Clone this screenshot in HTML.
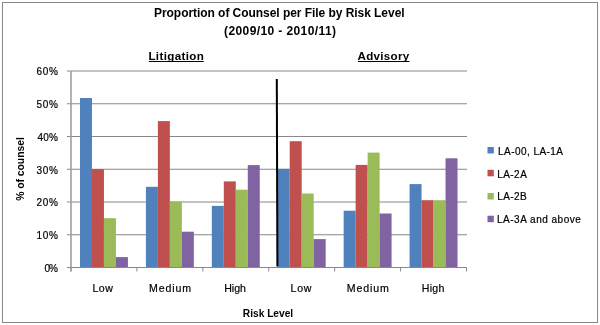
<!DOCTYPE html>
<html><head><meta charset="utf-8"><style>
html,body{margin:0;padding:0;background:#fff;width:600px;height:325px;overflow:hidden}
svg{display:block;font-family:"Liberation Sans", sans-serif;will-change:transform}
text{fill:#000}
text.r{stroke:#000;stroke-width:0.2px}
</style></head><body>
<svg width="600" height="325" viewBox="0 0 600 325">
<rect x="2.5" y="2.5" width="595" height="320" fill="#fff" stroke="#878787" stroke-width="1"/>
<line x1="67.0" y1="234.75" x2="467.0" y2="234.75" stroke="#888" stroke-width="1"/>
<line x1="67.0" y1="202.00" x2="467.0" y2="202.00" stroke="#888" stroke-width="1"/>
<line x1="67.0" y1="169.25" x2="467.0" y2="169.25" stroke="#888" stroke-width="1"/>
<line x1="67.0" y1="136.50" x2="467.0" y2="136.50" stroke="#888" stroke-width="1"/>
<line x1="67.0" y1="103.75" x2="467.0" y2="103.75" stroke="#888" stroke-width="1"/>
<line x1="67.0" y1="71.00" x2="467.0" y2="71.00" stroke="#888" stroke-width="1"/>
<rect x="79.99" y="98.00" width="11.98" height="169.50" fill="#4F81BD"/>
<rect x="91.97" y="169.10" width="11.98" height="98.40" fill="#C0504D"/>
<rect x="103.96" y="218.20" width="11.98" height="49.30" fill="#9BBB59"/>
<rect x="115.94" y="257.10" width="11.98" height="10.40" fill="#8064A2"/>
<rect x="145.91" y="186.80" width="11.98" height="80.70" fill="#4F81BD"/>
<rect x="157.89" y="121.10" width="11.98" height="146.40" fill="#C0504D"/>
<rect x="169.88" y="201.60" width="11.98" height="65.90" fill="#9BBB59"/>
<rect x="181.86" y="231.70" width="11.98" height="35.80" fill="#8064A2"/>
<rect x="211.82" y="205.90" width="11.98" height="61.60" fill="#4F81BD"/>
<rect x="223.81" y="181.40" width="11.98" height="86.10" fill="#C0504D"/>
<rect x="235.79" y="189.70" width="11.98" height="77.80" fill="#9BBB59"/>
<rect x="247.78" y="165.10" width="11.98" height="102.40" fill="#8064A2"/>
<rect x="277.74" y="168.90" width="11.98" height="98.60" fill="#4F81BD"/>
<rect x="289.72" y="141.20" width="11.98" height="126.30" fill="#C0504D"/>
<rect x="301.71" y="193.50" width="11.98" height="74.00" fill="#9BBB59"/>
<rect x="313.69" y="239.10" width="11.98" height="28.40" fill="#8064A2"/>
<rect x="343.66" y="210.70" width="11.98" height="56.80" fill="#4F81BD"/>
<rect x="355.64" y="164.90" width="11.98" height="102.60" fill="#C0504D"/>
<rect x="367.63" y="152.60" width="11.98" height="114.90" fill="#9BBB59"/>
<rect x="379.61" y="213.50" width="11.98" height="54.00" fill="#8064A2"/>
<rect x="409.57" y="184.10" width="11.98" height="83.40" fill="#4F81BD"/>
<rect x="421.56" y="200.20" width="11.98" height="67.30" fill="#C0504D"/>
<rect x="433.54" y="200.20" width="11.98" height="67.30" fill="#9BBB59"/>
<rect x="445.53" y="158.30" width="11.98" height="109.20" fill="#8064A2"/>
<line x1="71.0" y1="267.5" x2="467.0" y2="267.5" stroke="#888" stroke-width="1"/>
<line x1="71.00" y1="267.5" x2="71.00" y2="271.5" stroke="#888" stroke-width="1"/>
<line x1="136.92" y1="267.5" x2="136.92" y2="271.5" stroke="#888" stroke-width="1"/>
<line x1="202.83" y1="267.5" x2="202.83" y2="271.5" stroke="#888" stroke-width="1"/>
<line x1="268.75" y1="267.5" x2="268.75" y2="271.5" stroke="#888" stroke-width="1"/>
<line x1="334.67" y1="267.5" x2="334.67" y2="271.5" stroke="#888" stroke-width="1"/>
<line x1="400.58" y1="267.5" x2="400.58" y2="271.5" stroke="#888" stroke-width="1"/>
<line x1="466.50" y1="267.5" x2="466.50" y2="271.5" stroke="#888" stroke-width="1"/>
<line x1="71.0" y1="71.0" x2="71.0" y2="271.5" stroke="#a0a0a0" stroke-width="1.6"/>
<line x1="67.0" y1="267.5" x2="71.0" y2="267.5" stroke="#888" stroke-width="1"/>
<line x1="276.8" y1="79" x2="277.4" y2="266.5" stroke="#000" stroke-width="2"/>
<text id="title1" x="154.00" y="16.90" font-size="12" font-weight="bold" textLength="250.60" lengthAdjust="spacing">Proportion of Counsel per File by Risk Level</text>
<text id="title2" x="224.00" y="34.50" font-size="12" font-weight="bold" textLength="112.00" lengthAdjust="spacing">(2009/10 - 2010/11)</text>
<text id="litig" x="148.40" y="59.80" font-size="11.6" font-weight="bold" textLength="55.40" lengthAdjust="spacing">Litigation</text>
<text id="advis" x="357.60" y="59.60" font-size="11.6" font-weight="bold" textLength="51.60" lengthAdjust="spacing">Advisory</text>
<text id="y0" class="r" x="44.60" y="272.10" font-size="10" font-weight="normal" textLength="13.40" lengthAdjust="spacing">0%</text>
<text id="y1" class="r" x="36.60" y="239.35" font-size="10" font-weight="normal" textLength="21.40" lengthAdjust="spacing">10%</text>
<text id="y2" class="r" x="36.60" y="205.60" font-size="10" font-weight="normal" textLength="21.40" lengthAdjust="spacing">20%</text>
<text id="y3" class="r" x="36.60" y="173.85" font-size="10" font-weight="normal" textLength="21.40" lengthAdjust="spacing">30%</text>
<text id="y4" class="r" x="37.60" y="141.10" font-size="10" font-weight="normal" textLength="20.40" lengthAdjust="spacing">40%</text>
<text id="y5" class="r" x="36.60" y="108.35" font-size="10" font-weight="normal" textLength="21.40" lengthAdjust="spacing">50%</text>
<text id="y6" class="r" x="36.60" y="74.60" font-size="10" font-weight="normal" textLength="21.40" lengthAdjust="spacing">60%</text>
<text id="c0" class="r" x="92.60" y="291.60" font-size="10.6" font-weight="normal" textLength="20.20" lengthAdjust="spacing">Low</text>
<text id="c1" class="r" x="149.00" y="291.60" font-size="10.6" font-weight="normal" textLength="42.00" lengthAdjust="spacing">Medium</text>
<text id="c2" class="r" x="224.20" y="291.60" font-size="10.6" font-weight="normal" textLength="21.80" lengthAdjust="spacing">High</text>
<text id="c3" class="r" x="290.60" y="291.60" font-size="10.6" font-weight="normal" textLength="20.80" lengthAdjust="spacing">Low</text>
<text id="c4" class="r" x="346.80" y="291.60" font-size="10.6" font-weight="normal" textLength="42.00" lengthAdjust="spacing">Medium</text>
<text id="c5" class="r" x="421.80" y="291.60" font-size="10.6" font-weight="normal" textLength="22.60" lengthAdjust="spacing">High</text>
<text id="risk" x="242.80" y="317.30" font-size="10.2" font-weight="bold" textLength="50.40" lengthAdjust="spacing">Risk Level</text>
<text id="l0" class="r" x="498.00" y="155.30" font-size="10" font-weight="normal" textLength="65.00" lengthAdjust="spacing">LA-00, LA-1A</text>
<text id="l1" class="r" x="497.20" y="178.00" font-size="10" font-weight="normal" textLength="29.60" lengthAdjust="spacing">LA-2A</text>
<text id="l2" class="r" x="497.20" y="199.90" font-size="10" font-weight="normal" textLength="29.40" lengthAdjust="spacing">LA-2B</text>
<text id="l3" class="r" x="497.00" y="222.70" font-size="10" font-weight="normal" textLength="83.80" lengthAdjust="spacing">LA-3A and above</text>
<rect x="148.9" y="61" width="54.8" height="1" fill="#000"/>
<rect x="357.9" y="61" width="51.6" height="1" fill="#000"/>
<text id="ylab" transform="translate(24,200.80) rotate(-90)" font-size="10.6" font-weight="bold" textLength="63.60" lengthAdjust="spacingAndGlyphs">% of counsel</text>
<rect x="487.5" y="147" width="6.3" height="6.5" fill="#4F81BD"/>
<rect x="487.5" y="169.8" width="6.3" height="6.5" fill="#C0504D"/>
<rect x="487.5" y="193" width="6.3" height="6.5" fill="#9BBB59"/>
<rect x="487.5" y="215.7" width="6.3" height="6.5" fill="#8064A2"/>
</svg>
</body></html>
